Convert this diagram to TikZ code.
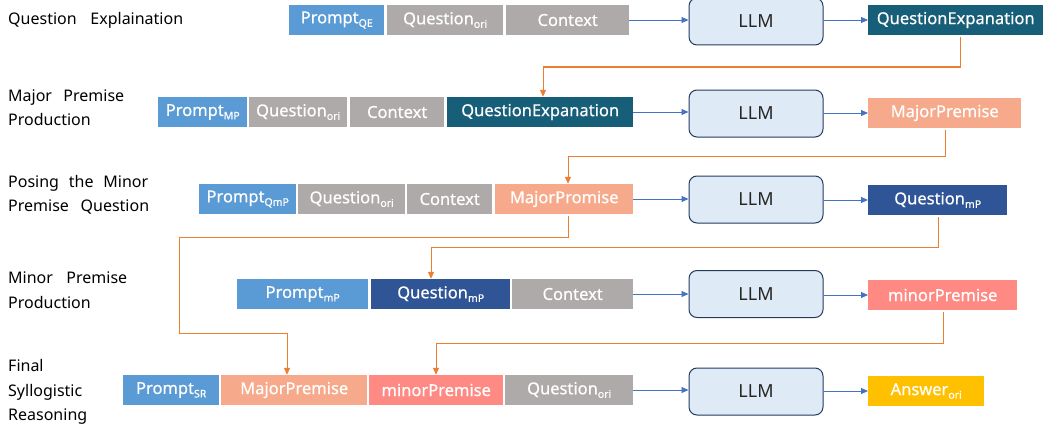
\documentclass[tikz,border=0pt]{standalone}
\usepackage{fontspec}
\setmainfont{Noto Sans}
\newfontfamily\boxfont[FakeBold=0.5]{Noto Sans}
\usetikzlibrary{arrows.meta}
\definecolor{cprompt}{HTML}{5B9BD5}
\definecolor{cgrey}{HTML}{AEAAAA}
\definecolor{cteal}{HTML}{175E78}
\definecolor{csalmon}{HTML}{F7AA8B}
\definecolor{cnavy}{HTML}{2F5597}
\definecolor{cminor}{HTML}{FF8A84}
\definecolor{cans}{HTML}{FFC000}
\definecolor{cllmfill}{HTML}{DEEAF6}
\definecolor{cllmdraw}{HTML}{243B5E}
\definecolor{cblue}{HTML}{4472C4}
\definecolor{corange}{HTML}{ED7D31}
\newcommand\sbs[1]{\raisebox{-0.4ex}{\fontsize{10.5}{10.5}\selectfont #1}}
\tikzset{
  blk/.style={inner sep=0pt, minimum height=30pt, text=white, anchor=west,
    font=\boxfont\fontsize{16.5}{18}\selectfont},
  llmbox/.style={draw=cllmdraw, line width=1pt, fill=cllmfill, rounded corners=8pt,
    minimum width=134pt, minimum height=47pt, inner sep=0pt,
    font=\fontsize{18}{20}\selectfont, text=black!85},
  lab/.style={anchor=west, inner sep=0pt, align=left,
    font=\fontsize{16}{24.5}\selectfont, text=black},
  barrow/.style={draw=cblue, line width=0.8pt, -{Triangle[length=7pt,width=6pt]}},
  oarrow/.style={draw=corange, line width=1pt, -{Triangle[length=7pt,width=6pt]}}
}
\begin{document}
\begin{tikzpicture}[x=1pt,y=-1pt]
\useasboundingbox (0,0) rectangle (1054,428);
% labels
\node[lab] (l1) at (8,20) {\makebox[175pt][s]{Question Explaination}};
\node[lab] (l2) at (8,107.5) {\makebox[116pt][s]{Major Premise}\\Production};
\node[lab] (l3) at (8,195) {\makebox[140pt][s]{Posing the Minor}\\\makebox[141pt][s]{Premise Question}};
\node[lab] (l4) at (8,290) {\makebox[119pt][s]{Minor Premise}\\Production};
\node[lab] (l5) at (8,392) {Final\\Syllogistic\\Reasoning};
% row 1
\node[blk, fill=cprompt, minimum width=95] (p1) at (289,20) {Prompt\sbs{QE}};
\node[blk, fill=cgrey, minimum width=116] (q1) at (387,20) {Question\sbs{ori}};
\node[blk, fill=cgrey, minimum width=123] (c1) at (506,20) {Context};
\node[llmbox] (m1) at (756,21.5) {LLM};
\node[blk, fill=cteal, minimum width=175] (o1) at (868,20) {QuestionExpanation};
% row 2
\node[blk, fill=cprompt, minimum width=89] (p2) at (158,112) {Prompt\sbs{MP}};
\node[blk, fill=cgrey, minimum width=98] (q2) at (249,112) {Question\sbs{ori}};
\node[blk, fill=cgrey, minimum width=94] (c2) at (350,112) {Context};
\node[blk, fill=cteal, minimum width=186] (e2) at (447,112) {QuestionExpanation};
\node[llmbox] (m2) at (756,113.5) {LLM};
\node[blk, fill=csalmon, minimum width=153] (o2) at (868,113) {MajorPremise};
% row 3
\node[blk, fill=cprompt, minimum width=97] (p3) at (199,199) {Prompt\sbs{QmP}};
\node[blk, fill=cgrey, minimum width=107] (q3) at (298,199) {Question\sbs{ori}};
\node[blk, fill=cgrey, minimum width=85] (c3) at (407,199) {Context};
\node[blk, fill=csalmon, minimum width=138] (a3) at (495,199) {MajorPromise};
\node[llmbox] (m3) at (756,199.5) {LLM};
\node[blk, fill=cnavy, minimum width=139] (o3) at (868,200) {Question\sbs{mP}};
% row 4
\node[blk, fill=cprompt, minimum width=131] (p4) at (237,294) {Prompt\sbs{mP}};
\node[blk, fill=cnavy, minimum width=139] (q4) at (371,294) {Question\sbs{mP}};
\node[blk, fill=cgrey, minimum width=121] (c4) at (512,294) {Context};
\node[llmbox] (m4) at (756,294) {LLM};
\node[blk, fill=cminor, minimum width=149] (o4) at (868,295) {minorPremise};
% row 5
\node[blk, fill=cprompt, minimum width=96] (p5) at (123,390) {Prompt\sbs{SR}};
\node[blk, fill=csalmon, minimum width=146] (a5) at (221,390) {MajorPremise};
\node[blk, fill=cminor, minimum width=134] (n5) at (369,390) {minorPremise};
\node[blk, fill=cgrey, minimum width=128] (q5) at (505,390) {Question\sbs{ori}};
\node[llmbox] (m5) at (756,391.5) {LLM};
\node[blk, fill=cans, minimum width=116] (o5) at (868,391) {Answer\sbs{ori}};
% blue arrows
\draw[barrow] (c1.east) -- (c1.east -| m1.west);
\draw[barrow] (o1.west -| m1.east) -- (o1.west);
\draw[barrow] (e2.east) -- (e2.east -| m2.west);
\draw[barrow] (o2.west -| m2.east) -- (o2.west);
\draw[barrow] (a3.east) -- (a3.east -| m3.west);
\draw[barrow] (o3.west -| m3.east) -- (o3.west);
\draw[barrow] (c4.east) -- (c4.east -| m4.west);
\draw[barrow] (o4.west -| m4.east) -- (o4.west);
\draw[barrow] (q5.east) -- (q5.east -| m5.west);
\draw[barrow] (o5.west -| m5.east) -- (o5.west);
% orange connectors
\coordinate (k1a) at (960,67);
\coordinate (k1b) at (543,67);
\draw[oarrow] ([yshift=-2pt]o1.south -| k1a) -- (k1a) -- (k1b) -- (k1b |- e2.north);
\coordinate (k2a) at (945,156);
\coordinate (k2b) at (568,156);
\draw[oarrow] ([yshift=-2pt]o2.south -| k2a) -- (k2a) -- (k2b) -- (k2b |- a3.north);
\coordinate (k3a) at (568,237);
\coordinate (k3b) at (179,237);
\coordinate (k3c) at (179,333);
\coordinate (k3d) at (287,333);
\draw[oarrow] ([yshift=-2pt]a3.south -| k3a) -- (k3a) -- (k3b) -- (k3c) -- (k3d) -- (k3d |- a5.north);
\coordinate (k4a) at (938,247);
\coordinate (k4b) at (431,247);
\draw[oarrow] ([yshift=-2pt]o3.south -| k4a) -- (k4a) -- (k4b) -- (k4b |- q4.north);
\coordinate (k5a) at (943,343);
\coordinate (k5b) at (436,343);
\draw[oarrow] ([yshift=-2pt]o4.south -| k5a) -- (k5a) -- (k5b) -- (k5b |- n5.north);
\end{tikzpicture}
\end{document}
